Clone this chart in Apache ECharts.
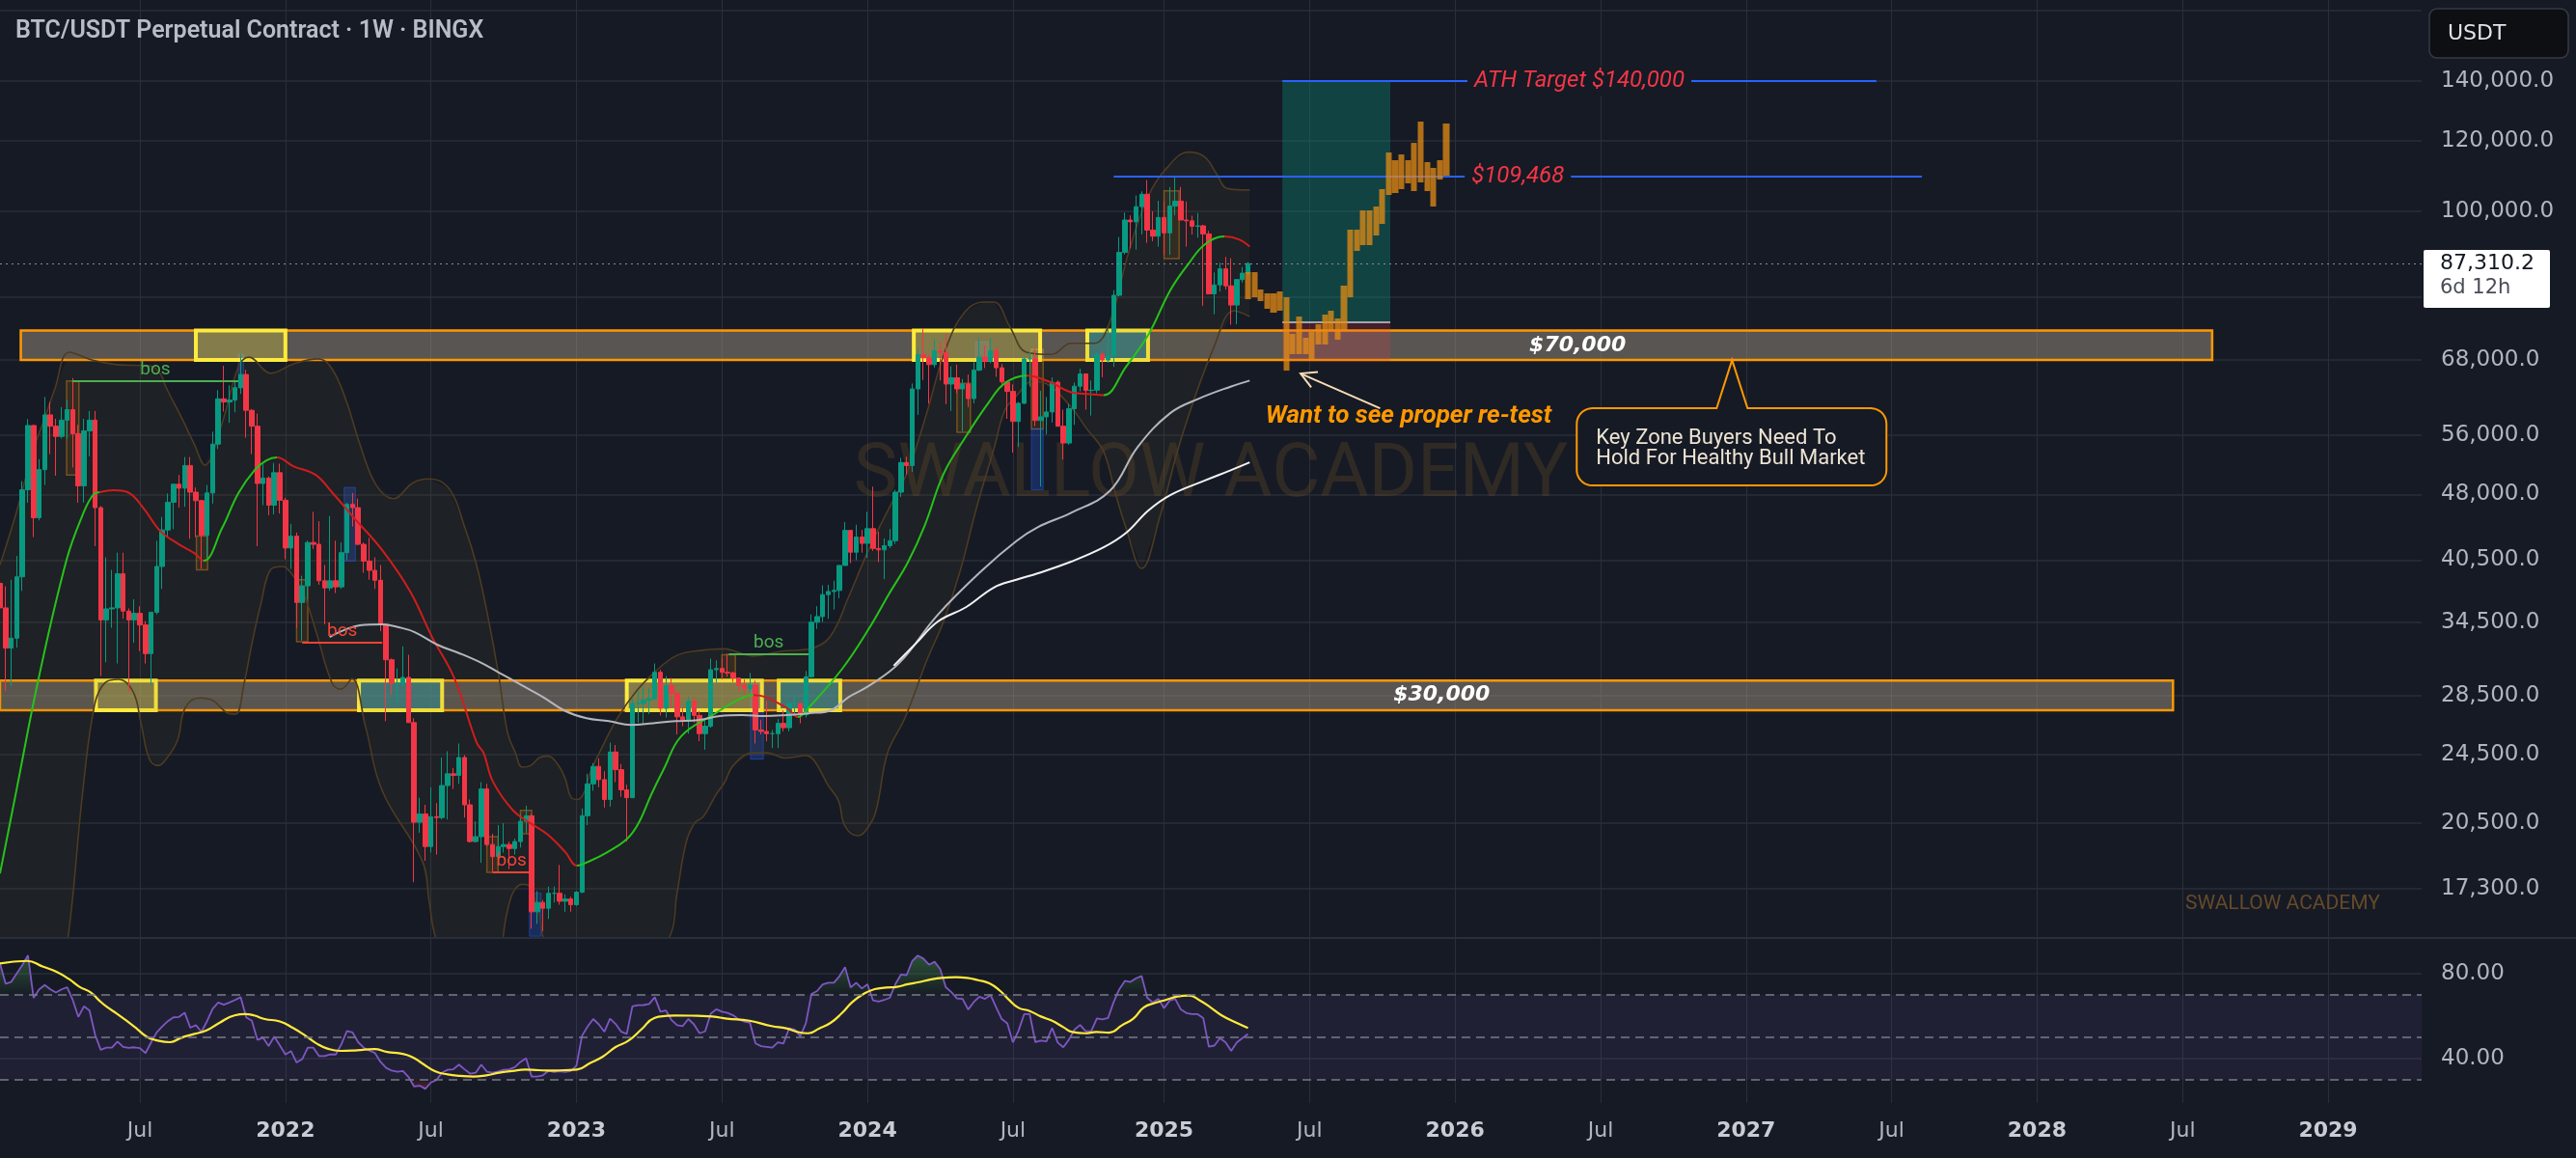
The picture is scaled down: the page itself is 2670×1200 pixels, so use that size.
<!DOCTYPE html>
<html>
<head>
<meta charset="utf-8">
<script src="https://cdn.jsdelivr.net/npm/echarts@6.0.0/dist/echarts.min.js"></script>
<style>
html,body{margin:0;padding:0;background:#161a25;}
#chart{width:2670px;height:1200px;}
</style>
</head>
<body>
<div id="chart"></div>
<script>
// ================= DATA =================
const chartTitle = 'BTC/USDT Perpetual Contract · 1W · BINGX';
const firstWeek = '2021-01-11';           // week of first candle
// weekly candles [open, high, low, close]
const c2021 = [
[38150,40100,30420,35800],[35800,37850,28850,32260],[32260,38500,29240,33100],[33100,40950,32300,38800],
[38800,49700,37400,48600],[48600,58350,47000,57400],[57400,57500,43000,45200],[45200,52600,44900,51200],
[51200,61800,49200,59000],[59000,61000,53300,57300],[57300,58400,50400,55800],[55800,60200,55500,58200],
[58200,61300,55500,59800],[59800,64900,51500,56200],[56200,57500,47000,49100],[49100,58400,47000,56600],
[56600,59600,53000,58200],[58200,59600,42000,46400],[46400,46600,30000,34700],[34700,40800,31100,35700],
[35700,39500,34000,35800],[35800,41300,31000,39100],[39100,41300,34800,35500],[35500,35750,28800,34700],
[34700,36600,32700,35300],[35300,35950,32000,34250],[34250,34600,31000,31800],[31800,35400,29300,35400],
[35400,42600,35200,39850],[39850,45300,37600,43800],[43800,48150,43000,47050],[47050,49400,43900,49300],
[49300,50500,46400,48800],[48800,52900,46500,51750],[51750,52900,42800,48300],[48300,48900,43000,47250],
[47250,47350,39600,43200],[43200,49200,40750,48200],[48200,56500,46900,54700],[54700,62900,54000,61500],
[61500,67000,59500,61000],[61000,63700,57800,61300],[61300,64300,59400,63300],[63300,69000,62300,65500],
[65500,66300,55600,59700],[59700,59900,53300,57300],[57300,59200,42000,49400],[49400,51900,46700,50100],
[50100,50300,45500,46700],[46700,52100,45600,50800],[50800,52000,45700,47300]
];
const c2022 = [
[47300,47600,40600,41800],[41800,44500,39600,43100],[43100,43500,34000,36300],[36300,38900,32900,37900],
[37900,42600,36600,42400],[42400,45900,41700,42200],[42200,44800,38000,38400],[38400,40000,34300,37700],
[37700,45400,37400,38400],[38400,42600,37200,37800],[37800,42400,37600,41300],[41300,47000,40500,46800],
[46800,48200,44200,46400],[46400,47500,42100,42200],[42200,42400,39200,40400],[40400,42900,38500,39450],
[39450,40800,37600,38450],[38450,40000,33700,34300],[34300,34300,26700,31300],[31300,31400,28600,29450],
[29450,30600,28000,29450],[29450,32400,29200,29900],[29900,31700,26600,26600],[26600,26900,17600,20550],
[20550,21900,20000,21000],[21000,21500,18600,19300],[19300,22500,19000,20850],[20850,21600,18900,20800],
[20800,24300,20700,22600],[22600,24700,20700,23300],[23300,23650,22400,23200],[23200,25200,22700,24300],
[24300,24450,20800,21500],[21500,21800,19500,19550],[19550,20600,19500,19800],[19800,22800,18500,22400],
[22400,22700,19300,19400],[19400,19950,18100,18800],[18800,20400,18450,19300],[19300,20500,19000,19400],
[19400,19550,18200,19200],[19200,19700,18900,19550],[19550,21000,19250,20600],[20600,21450,20000,20900],
[20900,21000,15600,16300],[16300,17200,15800,16700],[16700,16800,15500,16450],[16450,17400,16000,17100],
[17100,17400,16700,17100],[17100,18400,16600,16750],[16750,17050,16300,16850],[16850,16950,16300,16600]
];
const c2023 = [
[16600,17200,16550,17150],[17150,21300,17100,20900],[20900,23300,20400,22700],[22700,23950,22300,23750],
[23750,24250,22500,22950],[22950,23450,21350,21800],[21800,25250,21400,24650],[24650,25100,22800,23550],
[23550,23900,21950,22350],[22350,22650,19550,21900],[21900,28400,21900,27950],[27950,28900,26600,27950],
[27950,29200,26500,28200],[28200,29100,27200,28300],[28300,31000,28200,30300],[30300,30500,27100,27600],
[27600,30000,26950,29250],[29250,29850,27650,28700],[28700,28850,25800,27000],[27000,27650,26350,26750],
[26750,28450,25850,28100],[28100,28450,26600,27100],[27100,27400,25350,25850],[25850,26800,24800,26350],
[26350,31400,26250,30500],[30500,31250,29500,30600],[30600,31400,29750,30300],[30300,31800,29950,30250],
[30250,30350,29550,29850],[29850,29900,28900,29300],[29300,29750,28600,29050],[29050,30250,28750,29300],
[29300,29650,25200,26100],[26100,26800,25800,26000],[26000,28150,25350,25850],[25850,26100,24900,25850],
[25850,26850,24900,26550],[26550,27450,26000,26250],[26250,28050,26000,27950],[27950,28550,27200,27950],
[27950,28000,26550,27150],[27150,30400,26950,29950],[29950,35200,29900,34500],[34500,35950,33900,35000],
[35000,37950,34500,37050],[37050,38000,34800,37350],[37350,38400,35650,37450],[37450,40000,36700,39950],
[39950,44700,39950,43750],[43750,43800,40200,41350],[41350,44400,40500,43000],[43000,43800,41300,42300]
];
const c2024 = [
[42300,45900,40750,43950],[43950,49000,41500,41750],[41750,43600,40300,41600],[41600,42850,38550,42050],
[42050,43900,41800,42600],[42600,48600,42250,48300],[48300,52800,47700,52150],[52150,52950,50550,51750],
[51750,64000,50900,63100],[63100,70000,59000,68950],[68950,73800,64550,68400],[68400,68950,60750,67200],
[67200,71750,66700,69650],[69650,71300,64500,69350],[69350,72800,60650,63900],[63900,66900,59600,64950],
[64950,67200,62400,63100],[63100,64750,56550,63900],[63900,65500,60200,61550],[61550,67700,60800,66250],
[66250,71950,66050,68500],[68500,70600,66600,67750],[67750,71950,67450,69650],[69650,70200,65100,66650],
[66650,67300,63350,64250],[64250,64500,58400,62700],[62700,63850,53500,58000],[58000,61000,54300,60800],
[60800,68400,60650,68200],[68200,69400,63500,68250],[68250,70000,57300,58150],[58150,62800,49000,58700],
[58700,61800,56100,59450],[59450,65000,57850,64200],[64200,64500,57200,57300],[57300,59800,52550,54850],
[54850,60700,54600,59950],[59950,64150,57500,63550],[63550,66500,62700,65600],[65600,65600,59800,62850],
[62850,64500,58900,62900],[62900,69400,62400,69000],[69000,69500,65050,68000],[68000,73600,67500,68750],
[68750,81500,66800,80400],[80400,93500,80200,89850],[89850,99600,89400,97700],[97700,98900,90800,97250],
[97250,104100,90500,101150],[101150,105250,94150,104450],[104450,108350,92100,95200],[95200,99950,92500,93700]
];
const c2025 = [
[93700,102700,91200,98350],[98350,102500,89250,94500],[94500,106400,89250,101300],[101300,109600,98900,102600],
[102600,106450,97750,97700],[97700,102500,91200,97500],[97500,98800,94100,96150],[96150,99500,93350,96250],
[96250,96500,78250,94250],[94250,95000,81500,80700],[80700,85300,76550,82600],[82600,87500,81200,86100],
[86100,88800,81600,82400],[82400,88500,74500,78400],[78400,83600,74600,83750],[83750,86500,83100,85150],
[85150,87600,84650,87310.2]
];
const timeLeft = '6d 12h';

// projected bar pattern (HL bars) [low, high]
const projStart = '2025-04-21';
const projStepDays = 8;
const projBars = [
[79600,85370],[80000,85370],[79210,81620],[77650,80810],[76870,80810],[77260,81220],[66160,80000],[69050,72770],
[69050,76110],[69050,72040],[68020,73130],[70790,74600],[70790,76490],[73310,77260],[71680,75730],[73490,82450],
[80000,95300],[90200,95300],[91560,100170],[91560,100170],[93870,101180],[96740,105840],[104260,116370],[104780,114070],
[105840,115790],[107440,114070],[105310,119300],[107700,126060],[105310,113500],[101180,111820],[108500,114070],[109600,125430]
];

// indicator lines: [weeks since firstWeek, value]
const ma20Pts = [
[0,18000],[2.9,22260],[6.9,29820],[11.9,40550],[14.8,45600],[16.6,47940],[17.8,48300],[20.3,48540],[22.8,48300],
[25.7,46290],[28.6,43700],[31.7,42300],[34.7,41260],[36.4,40450],[39.7,44030],[42.6,48180],[45.5,51140],[47.6,52440],
[49.5,52840],[52.4,51660],[56.4,50500],[59.3,48300],[63.3,45150],[68.3,41570],[73.3,37350],[77.2,33200],[81.2,29820],
[85.2,25230],[86.4,24600],[88.1,22820],[91.7,21180],[94.8,20500],[97.9,19900],[101,19030],[103.1,18370],[105.5,18600],
[108.6,19030],[112.1,19700],[114.1,20500],[116.4,22100],[118.6,23580],[121.7,25670],[127.6,27190],[132.6,28360],
[134.7,28570],[140.5,27650],[142.6,26990],[144.5,27650],[150.5,30580],[155.2,33870],[158.8,37070],[162.2,40250],
[165.2,44250],[168.6,50640],[172.6,55800],[176.6,60840],[179.5,64000],[183.4,65300],[187.4,64330],[191.4,62550],
[194.8,62250],[197.2,62100],[201.2,66830],[205.2,72620],[209.1,81420],[212.4,87300],[215.3,91740],[218.8,93630],
[221.4,92930],[223.3,91200]
];
const maTurnWeeks = [17.8,36.4,49.5,103.1,134.7,142.6,183.4,197.2,218.8]; // colour flips, starts green
const bandUpper = [
[0,40000],[3,46000],[6,54000],[8,58500],[9.8,63100],[12.4,69400],[16.4,68000],[20.9,67200],[26.7,67000],[28.6,65700],
[29.7,63300],[32.6,58300],[34.7,54700],[36.6,51800],[39.7,57800],[42.6,66800],[44.5,68500],[48.4,65700],[52.4,67300],
[56.9,68200],[59.3,66500],[61.9,61100],[64.3,54700],[67.2,49200],[70.3,47500],[73.8,49500],[76.7,50000],[80.2,48800],
[83.1,44000],[85.2,39900],[87.1,35200],[89.1,30100],[90.7,25900],[92.1,24600],[93.3,23700],[94.8,23800],[96.4,24300],
[97.9,24400],[99.8,23800],[101,23000],[102.1,21900],[103.3,21800],[104.5,22300],[105.5,23400],[107.1,24600],[110.3,26900],
[113.8,28900],[117.2,30400],[120.7,31600],[124.1,32000],[129.3,32200],[134.5,31600],[139.7,32000],[144.8,32200],
[148.3,33200],[151.7,36900],[155.2,41600],[158.6,46000],[162.1,50800],[165.5,59000],[169,70000],[172.4,77000],
[175.7,79000],[177.6,79000],[180.5,74000],[183.4,69400],[187.9,69000],[191.4,71000],[195.5,71000],[198.3,75000],
[201.7,90000],[205.2,104000],[208.6,112000],[212.4,116500],[215.3,115000],[217.4,110000],[219.3,106000],[223.3,105600]
];
const bandLower = [
[0,9000],[8,11000],[12,15000],[14.8,22300],[16.9,27850],[18.8,29500],[21.2,29750],[23.8,28800],[25.2,26550],[26.7,24200],
[28.3,23800],[29.7,24200],[31.7,25400],[33.1,27650],[35.7,28350],[38.1,28150],[40.5,27300],[42.1,27200],[43.6,29400],
[45,32600],[46.6,36150],[48.4,39550],[50.5,39850],[51.9,39250],[54,37450],[56.4,33800],[59.3,29500],[60.9,29000],
[62.9,29800],[65.3,26350],[68.3,22300],[75.5,18560],[76.7,16730],[77.9,15200],[82,13200],[87.9,13500],[90.5,16150],
[91.7,17150],[93.3,17500],[94.5,17430],[95.5,16880],[96.4,16150],[97.1,15200],[100,13200],[112,13000],[119.5,15200],
[121,17150],[122.6,19500],[124.1,20500],[125.7,20860],[127.9,22050],[129.5,22800],[131,23800],[134.5,24600],
[137.1,24600],[140.2,24270],[144.1,24420],[145.7,24000],[147.9,22650],[149.8,21760],[151,20340],[153.3,19850],
[154.5,20050],[156.4,21020],[158.6,24600],[161.7,26920],[165.7,31350],[168.6,34560],[171.6,39450],[174.5,46420],
[177.6,54040],[179.5,59620],[181.6,61950],[184.5,64330],[187.4,63740],[191.4,60170],[194.3,56800],[197.2,53650],
[199.3,48200],[201.2,44030],[204,39650],[207.2,45200],[211.2,55840],[217.1,70800],[220.5,77250],[223.3,76100]
];
const grayLinePts = [
[58.9,33200],[61.4,33780],[64.3,34220],[68.3,34300],[71.2,34050],[74.1,33620],[78.1,32550],[82.1,31830],[86,31050],
[89.1,30290],[93.1,29330],[97.1,28400],[100.9,27430],[104.8,26900],[108.8,26700],[112.8,26430],[116.7,26560],
[120.7,26700],[124.7,26770],[128.6,27050],[132.6,27120],[136.6,27050],[140.5,27120],[144.5,27250],[148.4,27450],
[151.7,28430],[155.2,29240],[160.7,31050],[167.6,35180],[175.5,39460],[181.6,42560],[185.5,44140],[191.4,45800],
[198.3,48450],[203.3,54300],[209.1,59270],[214.1,61490],[220,63510],[223.3,64480]
];
const whiteLinePts = [
[159.7,30820],[163.6,32620],[167.6,34560],[172.6,35860],[177.6,37740],[181.6,38500],[185.5,39160],[191.4,40350],
[197.2,41870],[201.2,43460],[205.2,46070],[209.1,47940],[215.2,49760],[220,51150],[223.3,52180]
];

// RSI weekly values
const rsi2021 = [84.7,75.2,76,80,84,88.5,68.5,72.5,74.5,72.5,71,72.5,73.5,67.5,59.5,64.5,62.5,51,44,45,45,47.9,45.4,44.9,45.2,44.8,42.5,47.5,52.2,55,57.5,59.3,59.5,61.5,54.4,55.6,52.5,57.5,63.3,66.3,65.3,66.3,67.5,68.8,59.3,57.7,48.7,49.7,45.8,50.2,46.1];
const rsi2022 = [41.8,43.4,38,39.6,45,45,41.1,41.1,41.9,41.8,46.6,52.9,52.2,47.6,45,43.6,42.5,38.3,35.5,34.2,33.7,34,31.2,26.7,27.1,25.6,28.6,29.8,33.3,34.6,34.8,37,34.8,32.8,33.2,37,33.7,33.2,33.8,34.6,34.8,35.8,38.3,40,31.4,31.4,32,34.1,33.6,33.9,33.6,34];
const rsi2023 = [36.5,50.6,55,58.5,56,52.5,58.7,56.2,52.5,51.5,64.5,65,65.1,65.6,68.8,62,62.5,58,55.6,55.2,58.5,56,51.8,52.7,61,63.1,62,61.4,60.3,58.3,57.3,56.8,47,45.7,45.4,45,47.5,47,54.1,53.6,50.5,56.5,70.3,71.7,74.8,75.6,75.6,78.7,83,73.4,75.6,72.9];
const rsi2024 = [74.9,67.3,66.8,67.5,68.5,75,79.5,79.2,85.8,88.4,87,84.1,85.5,82,73.5,71.2,68.2,68,63,66.5,69,68,69.8,64,58.5,56.5,47.5,53,60.8,60.8,47.6,48.3,48,54.3,47.4,45.2,48.8,53.5,55.7,52.8,52.9,58.8,58.3,59,66.5,72.5,76.5,76,77.7,78.8,68.5,66.3];
const rsi2025 = [68,63.6,67.2,68,63,61.3,60.8,60.8,59,45.5,46,49.5,47.5,43.5,47.5,49.5,51.5];
const rsiMaPts = [
[0,84.7],[4.8,85.9],[7.7,83.2],[10,80.9],[12.3,77.4],[14.2,73.7],[16.2,71.1],[17.7,67.3],[19.1,64.2],[20.8,61.2],[23.1,56.7],
[24.6,53.6],[26.2,50.2],[27.7,48.7],[30.4,47.6],[32.3,49.6],[34.6,51.4],[36.9,53.2],[39.2,56.7],[41.9,60.2],[43.8,60.8],
[45.4,60.2],[47.3,58.5],[50,57.4],[52.3,54.4],[54.6,50.6],[56.5,47.1],[58.5,44.6],[60.8,43.5],[63.8,43.8],[66.9,44.4],
[69.2,43.0],[71.5,42.3],[73.5,40.8],[75.4,37.7],[77.7,34.0],[80,32.4],[82.3,31.7],[84.6,31.4],[86.9,32.0],[89.2,33.2],
[91.5,34.0],[93.8,34.7],[96.2,34.4],[98.5,34.2],[100.8,34.4],[103.1,34.7],[105.4,37.7],[107.7,40.8],[110,45.3],
[112.3,48.3],[114.6,53.6],[116.9,59.0],[119.2,60.0],[120.7,60.2],[124.6,60.0],[127.3,59.7],[129.9,58.7],[133.9,57.7],
[137.85,55.2],[140.5,54.1],[142.5,52.4],[144.4,51.8],[146.4,54.1],[148.4,56.7],[150.4,61.2],[152.3,66.5],[154.3,70.3],
[156.3,72.6],[158.3,73.3],[160.3,73.7],[162.2,74.9],[164.2,75.9],[166.2,77.1],[168.2,77.9],[170.8,78.2],[172.8,77.9],
[174.8,76.8],[176.8,75.3],[178.7,71.8],[180.4,67.3],[182,63.8],[184,62.3],[186,59.7],[188,57.7],[190,54.7],[191.6,52.4],
[193.9,51.8],[195.9,52.4],[198.2,52.1],[200.5,55.6],[202.5,58.7],[204.4,64.0],[206.4,66.1],[208.4,67.6],[210.4,69.1],
[212.4,69.6],[214.4,67.3],[216.4,63.8],[218.3,60.2],[221,56.7],[223,54.3]
];

// axes ticks
const priceTickLabels = [17300,20500,24500,28500,34500,40500,48000,56000,68000,80000,100000,120000,140000];
const priceGridTicks = priceTickLabels.concat([168000]);
const rsiTicks = [40,80];
const xTickDates = ['2021-07-05','2022-01-03','2022-07-04','2023-01-02','2023-07-03','2024-01-01','2024-07-01','2025-01-06',
  '2025-07-07','2026-01-05','2026-07-06','2027-01-04','2027-07-05','2028-01-03','2028-07-03','2029-01-01'];
const xTickLabels = ['Jul','2022','Jul','2023','Jul','2024','Jul','2025','Jul','2026','Jul','2027','Jul','2028','Jul','2029'];

// drawings
const zone70 = ['2021-02-06','2028-08-09',68000,73400];
const zone30 = ['2020-12-20','2028-06-21',27470,29650];
const keyBoxes = [ // [start, end, low, high, kind]
 ['2021-09-13','2022-01-03',68000,73400,'y'],['2024-02-28','2024-08-04',68000,73400,'y'],['2024-10-02','2024-12-17',68000,73400,'t'],
 ['2021-05-11','2021-07-25',27470,29650,'y'],['2022-04-05','2022-07-18',27470,29650,'t'],['2023-03-06','2023-08-22',27470,29650,'y'],
 ['2023-09-12','2023-11-28',27470,29650,'t']
];
const blueMarks = [[42.6,43.5,63300,69000],[61.5,63.5,40400,48900],[94.6,96.7,15300,17100],[134.1,136.4,24200,29400],[174.3,176.6,67900,71300],[184.3,186.4,48600,56900]];
const obMarks = [[11.9,14.1,50500,64400],[35.1,37.1,39500,43100],[53,55,32800,38500],[87,89,18050,19800],[93,95,19950,21200],[129,131.4,29600,31700],[171,173.4,56400,64000],[184.3,186.4,56900,69900],[208,210.7,88400,105400]];
const bosLines = [ // [startWeek, endWeek, price, colour]
 [12.9,42.6,64400,'#4caf50'],[54,68.3,32740,'#f44336'],[88,94.8,18050,'#f44336'],[130.2,144.5,31740,'#4caf50']
];
const longPos = {start:'2025-06-03', end:'2025-10-16', target:140000, entry:75050, stop:67850};
const athLine = {start:'2025-06-03', end:'2027-06-16', value:140000, text:'ATH Target $140,000'};
const prevHigh = {start:'2024-11-04', end:'2027-08-12', value:109468, text:'$109,468'};
const noteText = 'Want to see proper re-test';
const calloutLines = ['Key Zone Buyers Need To','Hold For Healthy Bull Market'];
const watermark = 'SWALLOW ACADEMY';

// ================= BUILD =================
const DAY = 86400000, WEEK = 7*DAY;
const d = s => Date.parse(s + 'T00:00:00Z');
const T0 = d(firstWeek);
const wk = k => T0 + k*WEEK;
const X_MIN = d('2021-01-11'), X_MAX = d('2029-04-28');
const Y_MIN = 15231, Y_MAX = 172700;
const BG = '#161a25', GRIDC = '#2a2e39';

const candles = [].concat(c2021, c2022, c2023, c2024, c2025);
const candleData = candles.map((r,i) => [wk(i), r[0], r[3], r[2], r[1]]);
const lastClose = candles[candles.length-1][3];
const projData = projBars.map((r,i) => { const t = d(projStart) + i*projStepDays*DAY; return [t, r[0], r[1], r[0], r[1]]; });
const rsiAll = [].concat(rsi2021, rsi2022, rsi2023, rsi2024, rsi2025);
const toXY = pts => pts.map(p => [wk(p[0]), p[1]]);

const fmtPrice = v => Number(Math.round(v*10)/10).toLocaleString('en-US',{minimumFractionDigits:1,maximumFractionDigits:1});

const maPieces = [];
{
  const cols = ['#26c21b','#d01c1c'];
  let prev = null;
  maTurnWeeks.forEach((w,i) => {
    const p = {color: cols[i%2]};
    if (prev !== null) p.gte = prev;
    p.lt = wk(w);
    maPieces.push(p);
    prev = wk(w);
  });
  maPieces.push({gte: prev, color: cols[maTurnWeeks.length%2]});
}

const series = [];
const add = s => { series.push(s); return series.length-1; };

add({ name:'bandFill', type:'custom', xAxisIndex:0, yAxisIndex:0, z:1, silent:true, clip:true,
  data:[[X_MIN, 20000]],
  renderItem: (params, api) => {
    const pts = bandUpper.map(p => api.coord([wk(p[0]), p[1]]))
      .concat(bandLower.slice().reverse().map(p => api.coord([wk(p[0]), p[1]])));
    return {type:'polygon', shape:{points:pts}, style:{fill:'rgba(110,95,40,0.10)'}};
  }
});
add({ name:'bandUpper', type:'line', xAxisIndex:0, yAxisIndex:0, z:2, silent:true, symbol:'none', smooth:0.4,
  data: toXY(bandUpper), lineStyle:{color:'#4d3b22', width:1.6} });
add({ name:'bandLower', type:'line', xAxisIndex:0, yAxisIndex:0, z:2, silent:true, symbol:'none', smooth:0.4,
  data: toXY(bandLower), lineStyle:{color:'#4d3b22', width:1.6} });
add({ name:'obMarks', type:'line', xAxisIndex:0, yAxisIndex:0, z:2, data:[], silent:true,
  markArea:{silent:true, data: obMarks.map(m => [{xAxis:wk(m[0]), yAxis:m[2], itemStyle:{color:'rgba(255,152,0,0.10)', borderColor:'rgba(190,120,30,0.55)', borderWidth:1.5}}, {xAxis:wk(m[1]), yAxis:m[3]}])}
});
add({ name:'blueMarks', type:'line', xAxisIndex:0, yAxisIndex:0, z:2, data:[], silent:true,
  markArea:{silent:true, data: blueMarks.map(m => [{xAxis:wk(m[0]), yAxis:m[2], itemStyle:{color:'rgba(41,98,255,0.25)', borderColor:'rgba(41,98,255,0.45)', borderWidth:1}}, {xAxis:wk(m[1]), yAxis:m[3]}])}
});
add({ name:'candles', type:'candlestick', xAxisIndex:0, yAxisIndex:0, z:3, barWidth:5,
  data: candleData,
  itemStyle:{color:'#089981', color0:'#f23645', borderColor:'#089981', borderColor0:'#f23645', borderWidth:1},
  markLine:{silent:true, symbol:'none', data:[{yAxis:lastClose}], lineStyle:{type:[2,4], color:'#8a8d96', width:1}, label:{show:false}}
});
const MA_IDX = add({ name:'ma20', type:'line', xAxisIndex:0, yAxisIndex:0, z:4, symbol:'none', smooth:0.4, silent:true,
  data: toXY(ma20Pts), lineStyle:{width:2} });
add({ name:'grayLine', type:'line', xAxisIndex:0, yAxisIndex:0, z:4, symbol:'none', smooth:0.4, silent:true,
  data: toXY(grayLinePts), lineStyle:{color:'#b4b6bd', width:2} });
add({ name:'whiteLine', type:'line', xAxisIndex:0, yAxisIndex:0, z:4, symbol:'none', smooth:0.4, silent:true,
  data: toXY(whiteLinePts), lineStyle:{color:'#f2f2f2', width:2} });
const zoneStyle = {color:'rgba(170,158,138,0.45)', borderColor:'#ff9800', borderWidth:2.5};
add({ name:'zones', type:'line', xAxisIndex:0, yAxisIndex:0, z:5, data:[], silent:true,
  markArea:{silent:true, data:[
    [{xAxis:d(zone70[0]), yAxis:zone70[2], itemStyle:zoneStyle}, {xAxis:d(zone70[1]), yAxis:zone70[3]}],
    [{xAxis:d(zone30[0]), yAxis:zone30[2], itemStyle:zoneStyle}, {xAxis:d(zone30[1]), yAxis:zone30[3]}]
  ]}
});
add({ name:'keyBoxes', type:'line', xAxisIndex:0, yAxisIndex:0, z:6, data:[], silent:true,
  markArea:{silent:true, data: keyBoxes.map(b => [{xAxis:d(b[0]), yAxis:b[2], itemStyle:{color: b[4]==='y' ? 'rgba(255,235,59,0.26)' : 'rgba(32,160,170,0.45)', borderColor:'#ffeb3b', borderWidth:4}}, {xAxis:d(b[1]), yAxis:b[3]}])}
});
add({ name:'longPos', type:'line', xAxisIndex:0, yAxisIndex:0, z:6, data:[], silent:true,
  markArea:{silent:true, data:[
    [{xAxis:d(longPos.start), yAxis:longPos.entry, itemStyle:{color:'rgba(8,153,129,0.33)'}}, {xAxis:d(longPos.end), yAxis:longPos.target}],
    [{xAxis:d(longPos.start), yAxis:longPos.stop, itemStyle:{color:'rgba(242,54,69,0.2)'}}, {xAxis:d(longPos.end), yAxis:longPos.entry}]
  ]},
  markLine:{silent:true, symbol:'none', label:{show:false}, data:[[{coord:[d(longPos.start), longPos.entry], lineStyle:{color:'rgba(205,207,212,0.75)', width:2, type:'solid'}}, {coord:[d(longPos.end), longPos.entry]}]]}
});
add({ name:'projection', type:'candlestick', xAxisIndex:0, yAxisIndex:0, z:7, barWidth:6.6, silent:true,
  data: projData,
  itemStyle:{color:'rgba(230,140,20,0.75)', color0:'rgba(230,140,20,0.75)', borderColor:'rgba(230,140,20,0)', borderColor0:'rgba(230,140,20,0)', borderWidth:0}
});
add({ name:'drawLines', type:'line', xAxisIndex:0, yAxisIndex:0, z:8, data:[], silent:true,
  markLine:{silent:true, symbol:'none', data: [
    [{coord:[d(athLine.start), athLine.value], lineStyle:{color:'#2962ff', width:2, type:'solid'}, label:{show:false}}, {coord:[d(athLine.end), athLine.value]}],
    [{coord:[d(prevHigh.start), prevHigh.value], lineStyle:{color:'#2962ff', width:2, type:'solid'}, label:{show:false}}, {coord:[d(prevHigh.end), prevHigh.value]}]
  ].concat(bosLines.map(b => [
    {coord:[wk(b[0]), b[2]], lineStyle:{color:b[3], width:2, type:'solid'},
     label:{show:true, formatter:'bos', position:'insideMiddleTop', distance:2, color:b[3], fontSize:19, fontFamily:'Roboto'}},
    {coord:[wk(b[1]), b[2]]}
  ]))}
});
// RSI pane
add({ name:'rsiBand', type:'line', xAxisIndex:1, yAxisIndex:1, z:1, data:[], silent:true,
  markArea:{silent:true, data:[[{xAxis:X_MIN, yAxis:30, itemStyle:{color:'rgba(126,87,194,0.10)'}}, {xAxis:X_MAX, yAxis:70}]]},
  markLine:{silent:true, symbol:'none', label:{show:false}, lineStyle:{color:'#787b86', width:1.5, type:[9,6]}, data:[{yAxis:70},{yAxis:50},{yAxis:30}]}
});
add({ name:'rsiOB', type:'line', xAxisIndex:1, yAxisIndex:1, z:2, symbol:'none', silent:true,
  data: rsiAll.map((v,i) => [wk(i), Math.max(v,70)]), lineStyle:{opacity:0},
  areaStyle:{origin:70, color: new echarts.graphic.LinearGradient(0,0,0,1,[{offset:0,color:'rgba(76,175,80,0.55)'},{offset:1,color:'rgba(76,175,80,0.03)'}])}
});
add({ name:'rsiOS', type:'line', xAxisIndex:1, yAxisIndex:1, z:2, symbol:'none', silent:true,
  data: rsiAll.map((v,i) => [wk(i), Math.min(v,30)]), lineStyle:{opacity:0},
  areaStyle:{origin:30, color: new echarts.graphic.LinearGradient(0,0,0,1,[{offset:0,color:'rgba(242,54,69,0.03)'},{offset:1,color:'rgba(242,54,69,0.45)'}])}
});
add({ name:'rsi', type:'line', xAxisIndex:1, yAxisIndex:1, z:3, symbol:'none', silent:true,
  data: rsiAll.map((v,i) => [wk(i), v]), lineStyle:{color:'#7e57c2', width:1.8} });
add({ name:'rsiMA', type:'line', xAxisIndex:1, yAxisIndex:1, z:4, symbol:'none', smooth:0.5, silent:true,
  data: toXY(rsiMaPts), lineStyle:{color:'#ffeb3b', width:2.2} });

const xTickVals = xTickDates.map(d);
const xAxisBase = (gi, showLabel) => ({
  type:'value', gridIndex:gi, min:X_MIN, max:X_MAX, scale:true,
  axisLine:{show:false}, axisTick:{show:false, customValues:xTickVals},
  axisLabel:{show:showLabel, customValues:xTickVals, margin:18, color:'#b2b5be', fontSize:22, fontFamily:'DejaVu Sans',
    formatter: v => { let i = -1; xTickVals.forEach((t,j) => { if (Math.abs(t - v) < DAY) i = j; }); const t = i>=0 ? xTickLabels[i] : ''; return /^\d+$/.test(t) ? '{y|'+t+'}' : '{m|'+t+'}'; },
    rich:{ y:{fontSize:22, fontWeight:'bold', color:'#c9ccd4', fontFamily:'DejaVu Sans'}, m:{fontSize:22, color:'#b2b5be', fontFamily:'DejaVu Sans'} } },
  splitLine:{show:true, lineStyle:{color:GRIDC, width:1}}
});

const option = {
  backgroundColor: BG,
  animation: false,
  textStyle:{fontFamily:'DejaVu Sans'},
  grid:[
    {left:0, right:160, top:0, height:972},
    {left:0, right:160, top:972, height:171}
  ],
  xAxis:[ xAxisBase(0,false), xAxisBase(1,true) ],
  yAxis:[
    {type:'log', gridIndex:0, position:'right', min:Y_MIN, max:Y_MAX, logBase:10,
     axisLine:{show:false}, axisTick:{show:false, customValues:priceGridTicks},
     axisLabel:{customValues:priceTickLabels, margin:20, color:'#b2b5be', fontSize:23, fontFamily:'DejaVu Sans', padding:[6,0,0,0], formatter: v => fmtPrice(v)},
     splitLine:{show:true, lineStyle:{color:GRIDC, width:1.5}}},
    {type:'value', gridIndex:1, position:'right', min:18.95, max:96.7,
     axisLine:{show:false}, axisTick:{show:false, customValues:rsiTicks},
     axisLabel:{customValues:rsiTicks, margin:20, color:'#b2b5be', fontSize:23, fontFamily:'DejaVu Sans', padding:[6,0,0,0], formatter: v => Number(v).toFixed(2)},
     splitLine:{show:true, lineStyle:{color:GRIDC, width:1.5}}}
  ],
  visualMap:[{type:'piecewise', show:false, seriesIndex:MA_IDX, dimension:0, pieces:maPieces}],
  series: series
};

const chart = echarts.init(document.getElementById('chart'), null, {renderer:'canvas', width:2670, height:1200});
chart.setOption(option);

// ---------- overlay drawings positioned through the chart's scales ----------
const P = (t, v) => chart.convertToPixel({gridIndex:0}, [t, v]);
const txt = (x, y, text, o) => ({type:'text', x:x, y:y, z:o.z||100, silent:true,
  style: Object.assign({text:text, align:o.align||'left', textAlign:o.align||'left', verticalAlign:'middle', textVerticalAlign:'middle'}, o.style)});
const G = [];
G.push({type:'rect', z:60, silent:true, shape:{x:0, y:971, width:2670, height:2}, style:{fill:GRIDC}});
G.push(txt(1255, 495, watermark, {align:'center', z:1, style:{fill:'rgba(110,80,40,0.30)', fontSize:77, fontFamily:'Roboto'}}));
G.push(txt(2265, 937, watermark, {z:1, style:{fill:'#654a29', fontSize:21, fontFamily:'Roboto'}}));
G.push(txt(16, 33, chartTitle, {style:{fill:'#b8bcc6', fontSize:25, fontWeight:600, fontFamily:'Roboto'}}));
{
  const a = P(wk(281.9), zone70[2]), b = P(wk(281.9), zone70[3]);
  G.push(txt(a[0], (a[1]+b[1])/2, '$70,000', {align:'center', style:{fill:'#ffffff', fontSize:22, fontWeight:'bold', fontStyle:'italic', fontFamily:'DejaVu Sans'}}));
  const c = P(wk(257.6), zone30[2]), e = P(wk(257.6), zone30[3]);
  G.push(txt(c[0], (c[1]+e[1])/2, '$30,000', {align:'center', style:{fill:'#ffffff', fontSize:22, fontWeight:'bold', fontStyle:'italic', fontFamily:'DejaVu Sans'}}));
}
[athLine, prevHigh].forEach(l => {
  const a = P(d(l.start), l.value), b = P(d(l.end), l.value);
  G.push(txt((a[0]+b[0])/2, a[1], l.text, {align:'center', style:{fill:'#f23645', fontSize:24, fontStyle:'italic', fontFamily:'Roboto', backgroundColor:BG, padding:[3,7]}}));
});
{
  const n = P(wk(251.7), 58830);
  G.push(txt(n[0], n[1], noteText, {align:'center', style:{fill:'#ff9800', fontSize:26, fontWeight:'bold', fontStyle:'italic', fontFamily:'Roboto'}}));
  const tail = P(wk(246.6), 60020), tip = P(wk(232.4), 65660);
  G.push({type:'line', z:100, silent:true, shape:{x1:tail[0], y1:tail[1], x2:tip[0], y2:tip[1]}, style:{stroke:'#f6dcb5', lineWidth:2}});
  const ang = Math.atan2(tail[1]-tip[1], tail[0]-tip[0]), L = 18, s = 0.5;
  G.push({type:'polyline', z:100, silent:true, shape:{points:[[tip[0]+L*Math.cos(ang+s), tip[1]+L*Math.sin(ang+s)], tip, [tip[0]+L*Math.cos(ang-s), tip[1]+L*Math.sin(ang-s)]]}, style:{stroke:'#f6dcb5', lineWidth:2, fill:null}});
}
{
  const tp = P(wk(309.5), zone70[2]);
  const tx = tp[0], ty = tp[1];
  const Lx = tx-161, Rx = tx+160, T = ty+50, B = ty+130, r = 16;
  const pts = [];
  const arc = (cx, cy, a0, a1) => { for (let i=0;i<=8;i++){ const a=a0+(a1-a0)*i/8; pts.push([cx+r*Math.cos(a), cy+r*Math.sin(a)]); } };
  arc(Lx+r, T+r, Math.PI, 1.5*Math.PI);
  pts.push([tx-16, T], [tx, ty], [tx+16, T]);
  arc(Rx-r, T+r, 1.5*Math.PI, 2*Math.PI);
  arc(Rx-r, B-r, 0, 0.5*Math.PI);
  arc(Lx+r, B-r, 0.5*Math.PI, Math.PI);
  G.push({type:'polygon', z:99, silent:true, shape:{points:pts}, style:{fill:BG, stroke:'#ff9800', lineWidth:2}});
  G.push(txt(Lx+20, T+31, calloutLines[0], {style:{fill:'#ece3d2', fontSize:22, fontFamily:'Roboto'}}));
  G.push(txt(Lx+20, T+52, calloutLines[1], {style:{fill:'#ece3d2', fontSize:22, fontFamily:'Roboto'}}));
}
{
  const py = P(wk(candles.length-1), lastClose)[1];
  G.push({type:'rect', z:100, silent:true, shape:{x:2512, y:py-14, width:131, height:60, r:2}, style:{fill:'#ffffff'}});
  G.push(txt(2529, py, fmtPrice(lastClose), {style:{fill:'#131722', fontSize:22, fontFamily:'DejaVu Sans'}}));
  G.push(txt(2529, py+26, timeLeft, {style:{fill:'#4a4d57', fontSize:21, fontFamily:'DejaVu Sans'}}));
}
G.push({type:'rect', z:100, silent:true, shape:{x:2518, y:9, width:144, height:51, r:8}, style:{fill:'#0e0f13', stroke:'#363a45', lineWidth:1.5}});
G.push(txt(2537, 35, 'USDT', {style:{fill:'#e0e3eb', fontSize:22, fontFamily:'DejaVu Sans'}}));

chart.setOption({graphic: G});
</script>
</body>
</html>
